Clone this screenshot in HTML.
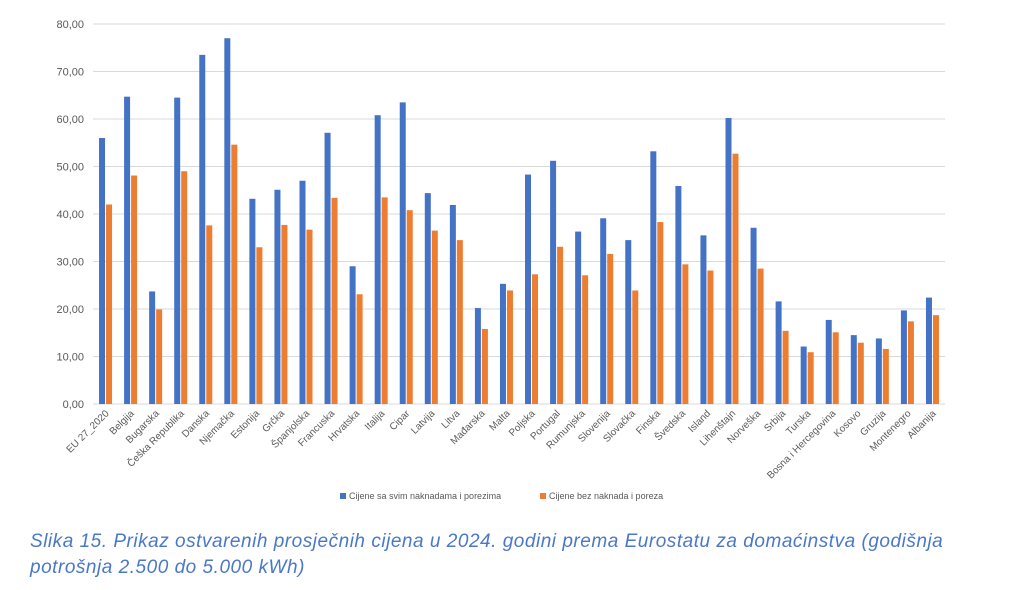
<!DOCTYPE html>
<html><head><meta charset="utf-8"><style>
body{margin:0;background:#fff;width:1024px;height:590px;overflow:hidden}
.cap{position:absolute;left:30px;top:529px;font:italic 19px "Liberation Sans",sans-serif;color:#4a78c8;line-height:26px;letter-spacing:0.52px}
</style></head><body>
<svg id="c" width="1024" height="590" style="position:absolute;left:0;top:0" font-family="Liberation Sans, sans-serif"></svg>
<div class="cap">Slika 15. Prikaz ostvarenih prosječnih cijena u 2024. godini prema Eurostatu za domaćinstva (godišnja<br>potrošnja 2.500 do 5.000 kWh)</div>
<script>
var d=[["EU 27_2020",56.0,42.0],["Belgija",64.7,48.1],["Bugarska",23.7,19.9],["Češka Republika",64.5,49.0],["Danska",73.5,37.6],["Njemačka",77.0,54.6],["Estonija",43.2,33.0],["Grčka",45.1,37.7],["Španjolska",47.0,36.7],["Francuska",57.1,43.4],["Hrvatska",29.0,23.1],["Italija",60.8,43.5],["Cipar",63.5,40.8],["Latvija",44.4,36.5],["Litva",41.9,34.5],["Mađarska",20.2,15.8],["Malta",25.3,23.9],["Poljska",48.3,27.3],["Portugal",51.2,33.1],["Rumunjska",36.3,27.1],["Slovenija",39.1,31.6],["Slovačka",34.5,23.9],["Finska",53.2,38.3],["Švedska",45.9,29.4],["Island",35.5,28.1],["Lihenštajn",60.2,52.7],["Norveška",37.1,28.5],["Srbija",21.6,15.4],["Turska",12.1,10.9],["Bosna i Hercegovina",17.7,15.1],["Kosovo",14.5,12.9],["Gruzija",13.8,11.6],["Montenegro",19.7,17.4],["Albanija",22.4,18.7]];
var s='',x0=93,x1=945,y0=404,k=4.75,w=(x1-x0)/d.length;
for(var v=0;v<=80;v+=10){var y=y0-v*k;s+='<line x1="'+x0+'" x2="'+x1+'" y1="'+y+'" y2="'+y+'" stroke="#d9d9d9" stroke-width="1"/>';
s+='<text x="84" y="'+(y+4)+'" font-size="11" fill="#595959" text-anchor="end">'+v.toFixed(2).replace('.',',')+'</text>';}
d.forEach(function(r,i){var c=x0+w*(i+0.5);
s+='<rect x="'+(c-6.5)+'" y="'+(y0-r[1]*k)+'" width="6" height="'+(r[1]*k)+'" fill="#4472c4"/>';
s+='<rect x="'+(c+0.5)+'" y="'+(y0-r[2]*k)+'" width="6" height="'+(r[2]*k)+'" fill="#ed7d31"/>';
s+='<text transform="translate('+(c+4)+',414) rotate(-45)" font-size="10" fill="#595959" text-anchor="end">'+r[0]+'</text>';});
s+='<rect x="340" y="493" width="6" height="6" fill="#4472c4"/><text x="349" y="499" font-size="9" fill="#595959">Cijene sa svim naknadama i porezima</text>';
s+='<rect x="540" y="493" width="6" height="6" fill="#ed7d31"/><text x="549" y="499" font-size="9" fill="#595959">Cijene bez naknada i poreza</text>';
document.getElementById('c').innerHTML=s;
</script>
</body></html>
